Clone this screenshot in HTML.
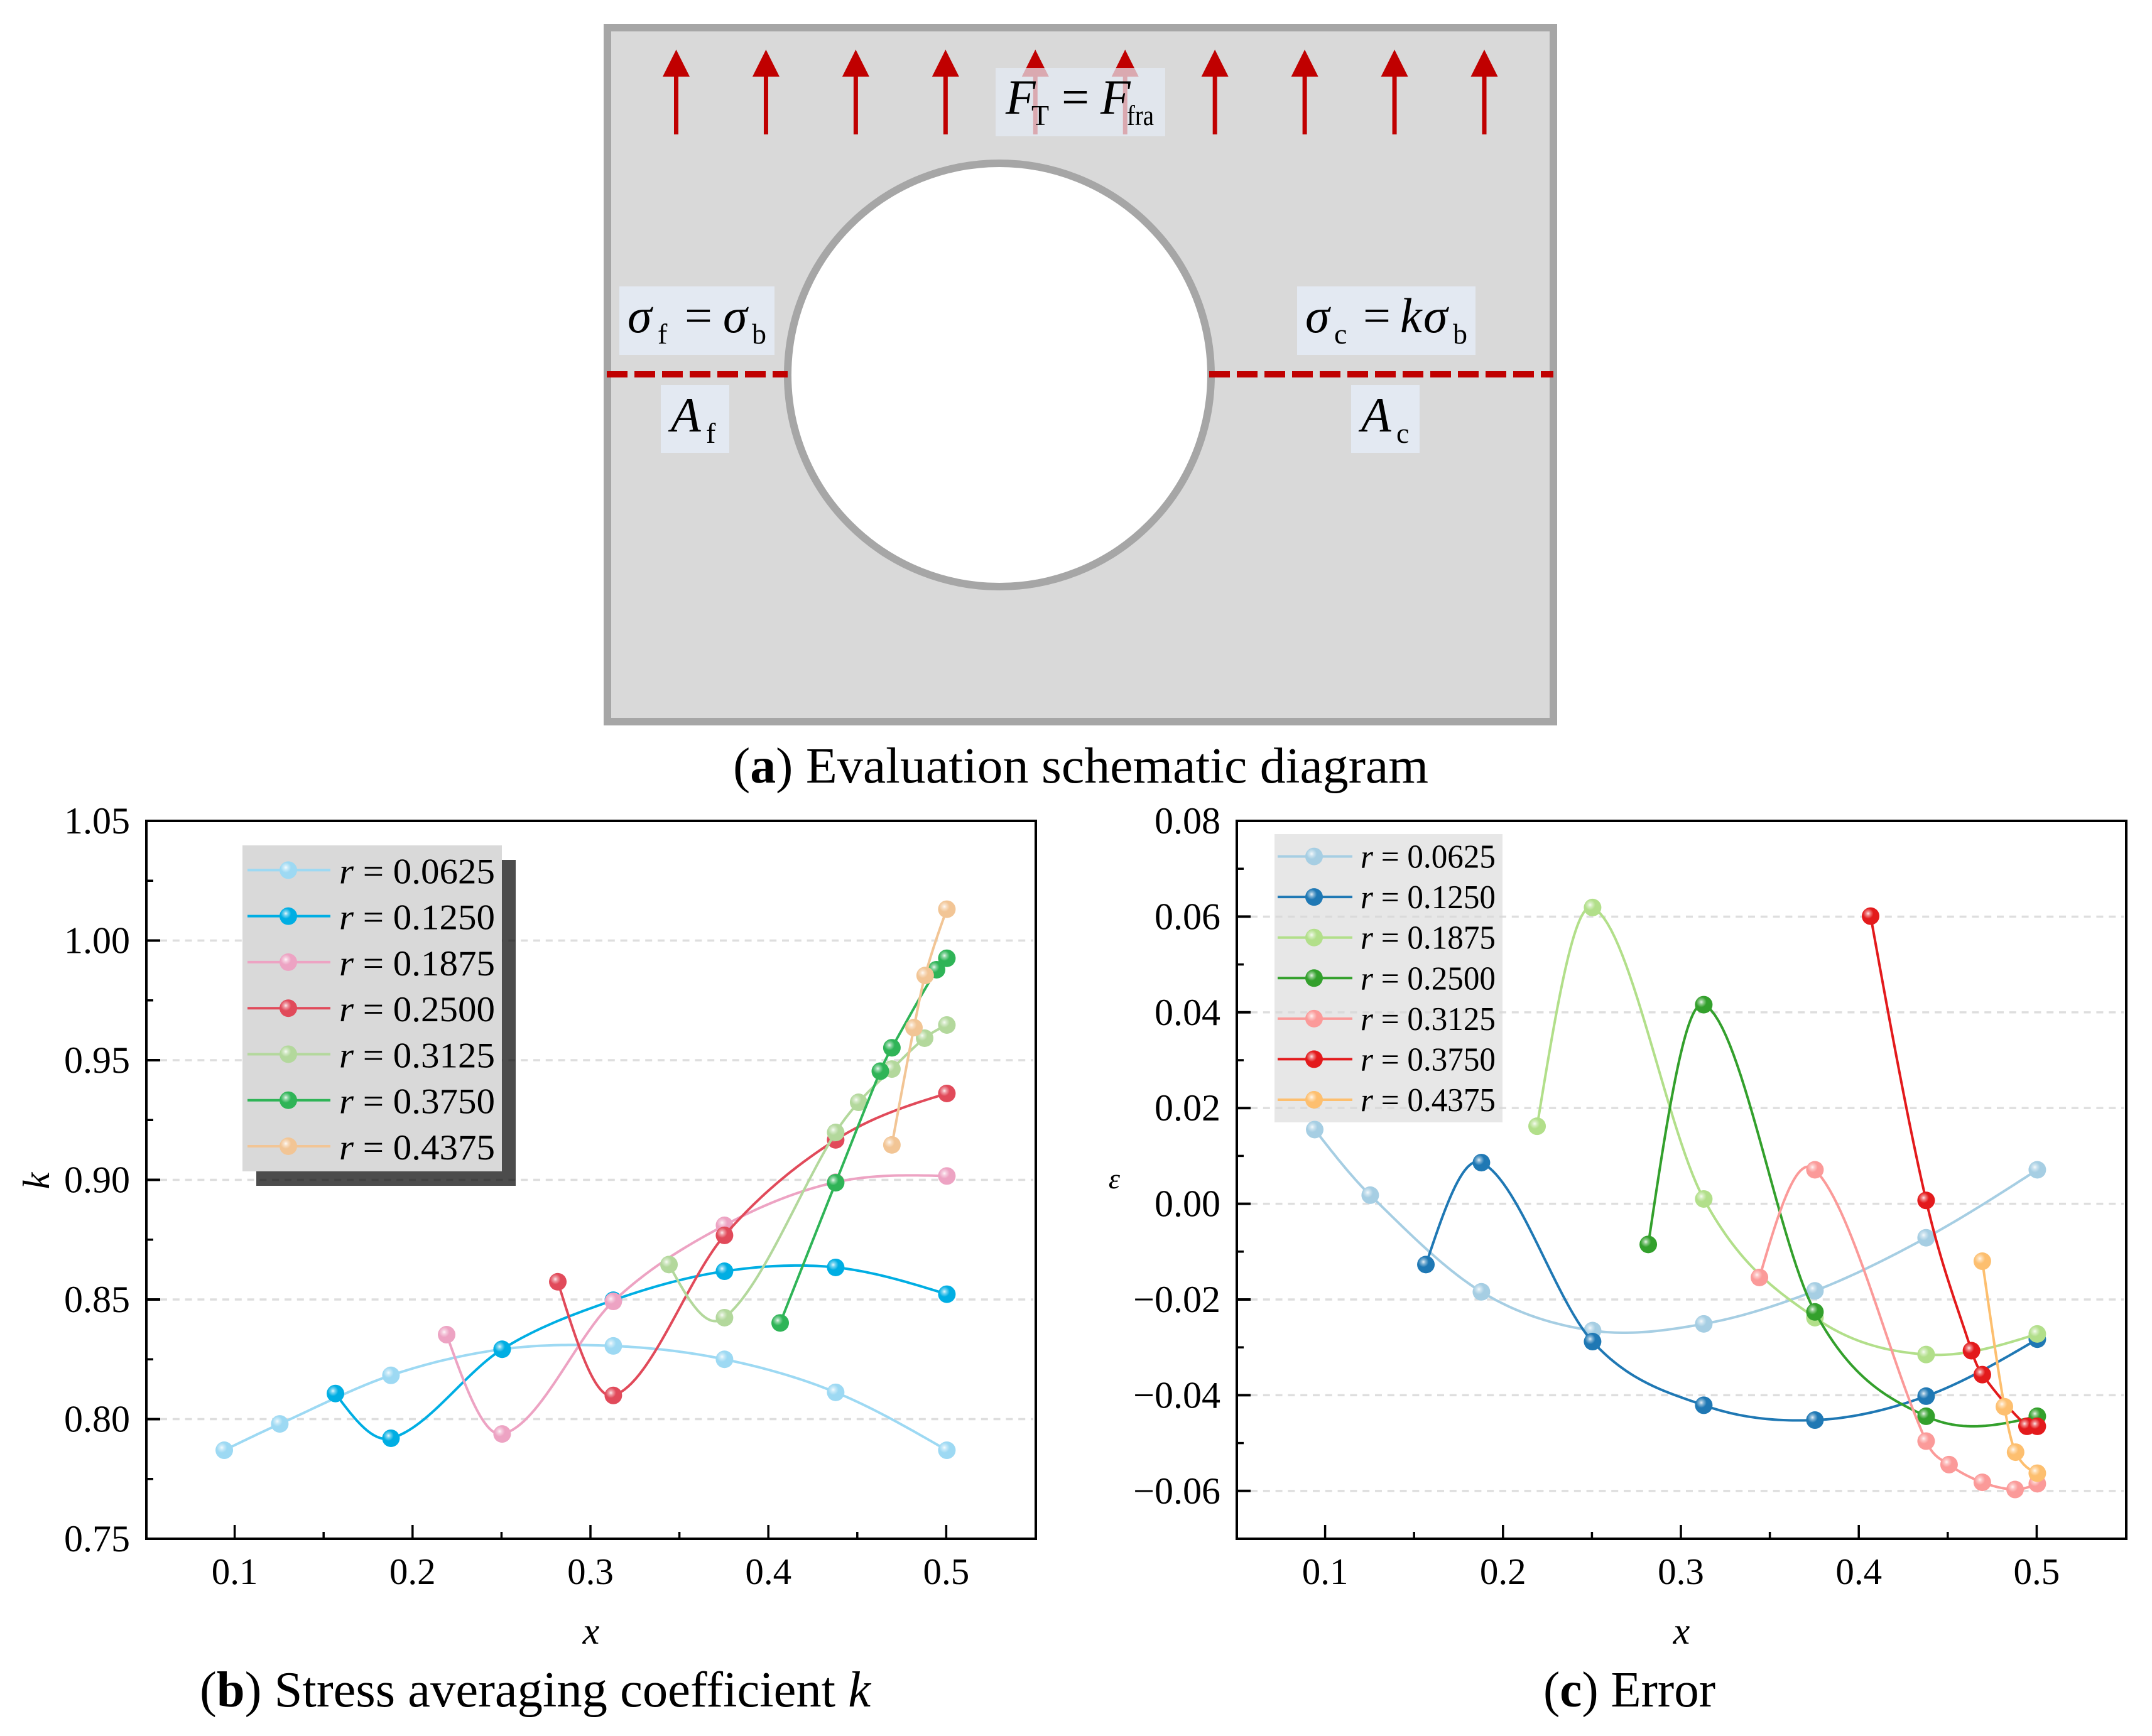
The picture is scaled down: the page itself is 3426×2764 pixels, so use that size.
<!DOCTYPE html>
<html lang="en">
<head>
<meta charset="utf-8">
<title>Evaluation schematic, stress averaging coefficient and error</title>
<style>
html,body{margin:0;padding:0;background:#fff;}
svg{display:block;}
text{font-family:"Liberation Serif",serif;fill:#000;}
.it{font-style:italic;}
</style>
</head>
<body>
<svg id="figure" xmlns="http://www.w3.org/2000/svg" width="3426" height="2764" viewBox="0 0 3426 2764">
<defs>
<radialGradient id="sheen" cx="0.36" cy="0.35" r="0.3">
<stop offset="0" stop-color="#fff" stop-opacity="0.9"/>
<stop offset="0.4" stop-color="#fff" stop-opacity="0.45"/>
<stop offset="1" stop-color="#fff" stop-opacity="0"/>
</radialGradient>
</defs>
<rect width="3426" height="2764" fill="#fff"/>

<g id="panel-a">
<rect x="967" y="44" width="1506" height="1105" fill="#d9d9d9" stroke="#a6a6a6" stroke-width="12"/>
<circle cx="1591" cy="597" r="337" fill="#fff" stroke="#a6a6a6" stroke-width="12"/>
<g id="arrows"></g>
<line x1="966" y1="596" x2="1254" y2="596" stroke="#c00000" stroke-width="10" stroke-dasharray="33 11"/>
<line x1="1925" y1="596" x2="2473" y2="596" stroke="#c00000" stroke-width="10" stroke-dasharray="33 11"/>

<rect x="1585" y="108" width="270" height="109" fill="#e3eaf4" fill-opacity="0.72"/>
<rect x="986" y="456" width="247" height="109" fill="#e3eaf4" fill-opacity="0.9"/>
<rect x="2065" y="456" width="284" height="109" fill="#e3eaf4" fill-opacity="0.9"/>
<rect x="1052" y="613" width="109" height="108" fill="#e3eaf4" fill-opacity="0.9"/>
<rect x="2151" y="613" width="109" height="108" fill="#e3eaf4" fill-opacity="0.9"/>

<g>
<text class="it" x="1601" y="181" font-size="78">F</text>
<text x="1642" y="199" font-size="46">T</text>
<text x="1690" y="181" font-size="78">=</text>
<text class="it" x="1752" y="181" font-size="78">F</text>
<text x="1794" y="199" font-size="46" textLength="43" lengthAdjust="spacingAndGlyphs">fra</text>
</g>
<g>
<text class="it" x="999" y="529" font-size="78">σ</text>
<text x="1047" y="547" font-size="46">f</text>
<text x="1090" y="529" font-size="78">=</text>
<text class="it" x="1151" y="529" font-size="78">σ</text>
<text x="1197" y="547" font-size="46">b</text>
</g>
<g>
<text class="it" x="2078" y="529" font-size="78">σ</text>
<text x="2124" y="547" font-size="46">c</text>
<text x="2170" y="529" font-size="78">=</text>
<text class="it" x="2229" y="529" font-size="78">k</text>
<text class="it" x="2266" y="529" font-size="78">σ</text>
<text x="2313" y="547" font-size="46">b</text>
</g>
<g>
<text class="it" x="1068" y="687" font-size="78">A</text>
<text x="1124" y="705" font-size="46">f</text>
</g>
<g>
<text class="it" x="2167" y="687" font-size="78">A</text>
<text x="2223" y="705" font-size="46">c</text>
</g>
</g>

<text x="1167" y="1246" font-size="80" textLength="1107" lengthAdjust="spacingAndGlyphs">(<tspan font-weight="bold">a</tspan>) Evaluation schematic diagram</text>

<g id="chart-b"></g>
<g id="chart-c"></g>

<text x="318" y="2717" font-size="80" textLength="1068" lengthAdjust="spacingAndGlyphs">(<tspan font-weight="bold">b</tspan>) Stress averaging coefficient <tspan font-style="italic">k</tspan></text>
<text x="2457" y="2717" font-size="80" textLength="274" lengthAdjust="spacingAndGlyphs">(<tspan font-weight="bold">c</tspan>) Error</text>
</svg>

<script>
// ---------- shared categories ----------
const rLabels = ['0.0625', '0.1250', '0.1875', '0.2500', '0.3125', '0.3750', '0.4375'];
const xTicks = [0.1, 0.2, 0.3, 0.4, 0.5];
const xTickLabels = ['0.1', '0.2', '0.3', '0.4', '0.5'];
const xMinorTicks = [0.15, 0.25, 0.35, 0.45];

// ---------- chart (b): stress averaging coefficient k ----------
const kTicks = [0.75, 0.80, 0.85, 0.90, 0.95, 1.00, 1.05];
const kTickLabels = ['0.75', '0.80', '0.85', '0.90', '0.95', '1.00', '1.05'];
const kMinorTicks = [0.775, 0.825, 0.875, 0.925, 0.975, 1.025];
const kGrid = [0.80, 0.85, 0.90, 0.95, 1.00];

const kX1 = [0.0938, 0.125, 0.1875, 0.25, 0.3125, 0.375, 0.4375, 0.5];
const kY1 = [0.787, 0.798, 0.8183, 0.8292, 0.8306, 0.825, 0.8112, 0.787];
const kX2 = [0.1563, 0.1875, 0.25, 0.3125, 0.375, 0.4375, 0.5];
const kY2 = [0.8107, 0.792, 0.8292, 0.8497, 0.8618, 0.8634, 0.8522];
const kX3 = [0.2188, 0.25, 0.3125, 0.375, 0.4375, 0.5];
const kY3 = [0.8353, 0.7938, 0.8492, 0.881, 0.899, 0.9016];
const kX4 = [0.2813, 0.3125, 0.375, 0.4375, 0.5];
const kY4 = [0.8574, 0.8099, 0.8768, 0.9167, 0.9361];
const kX5 = [0.3438, 0.375, 0.4375, 0.4504, 0.4691, 0.4875, 0.5];
const kY5 = [0.8646, 0.8424, 0.9198, 0.9324, 0.9463, 0.9592, 0.9647];
const kX6 = [0.4063, 0.4375, 0.4626, 0.4691, 0.4942, 0.5];
const kY6 = [0.8402, 0.8988, 0.9454, 0.9552, 0.9878, 0.9926];
const kX7 = [0.4691, 0.4815, 0.4878, 0.5];
const kY7 = [0.9146, 0.9636, 0.9854, 1.0131];

// ---------- chart (c): error ----------
const eTicks = [-0.06, -0.04, -0.02, 0, 0.02, 0.04, 0.06, 0.08];
const eTickLabels = ['\u22120.06', '\u22120.04', '\u22120.02', '0.00', '0.02', '0.04', '0.06', '0.08'];
const eMinorTicks = [-0.05, -0.03, -0.01, 0.01, 0.03, 0.05, 0.07];
const eGrid = [-0.06, -0.04, -0.02, 0, 0.02, 0.04, 0.06];

const eX1 = [0.0938, 0.125, 0.1875, 0.25, 0.3125, 0.375, 0.4375, 0.5];
const eY1 = [0.0155, 0.0018, -0.0184, -0.0265, -0.0251, -0.0182, -0.0071, 0.0071];
const eX2 = [0.1563, 0.1875, 0.25, 0.3125, 0.375, 0.4375, 0.5];
const eY2 = [-0.0127, 0.0086, -0.0288, -0.0421, -0.0452, -0.0402, -0.0283];
const eX3 = [0.2188, 0.25, 0.3125, 0.375, 0.4375, 0.5];
const eY3 = [0.0162, 0.0619, 0.001, -0.0238, -0.0315, -0.0272];
const eX4 = [0.2813, 0.3125, 0.375, 0.4375, 0.5];
const eY4 = [-0.0085, 0.0416, -0.0226, -0.0444, -0.0444];
const eX5 = [0.3438, 0.375, 0.4375, 0.4504, 0.4691, 0.4875, 0.5];
const eY5 = [-0.0154, 0.0071, -0.0496, -0.0545, -0.0582, -0.0597, -0.0585];
const eX6 = [0.4063, 0.4375, 0.463, 0.4691, 0.4942, 0.5];
const eY6 = [0.0601, 0.0007, -0.0307, -0.0357, -0.0465, -0.0465];
const eX7 = [0.4691, 0.4815, 0.4878, 0.5];
const eY7 = [-0.012, -0.0424, -0.0519, -0.0563];

const kColors = ['#9dd9f3', '#00aee3', '#eda3c3', '#e14a5a', '#b3d89c', '#2fb457', '#f2c595'];
const eColors = ['#a6cee3', '#1f78b4', '#b2df8a', '#33a02c', '#fb9a99', '#e31a1c', '#fdbf6f'];

const kSeries = [[kX1, kY1], [kX2, kY2], [kX3, kY3], [kX4, kY4], [kX5, kY5], [kX6, kY6], [kX7, kY7]];
const eSeries = [[eX1, eY1], [eX2, eY2], [eX3, eY3], [eX4, eY4], [eX5, eY5], [eX6, eY6], [eX7, eY7]];

const SVGNS = 'http://www.w3.org/2000/svg';
function svgEl(tag, attrs, parent) {
  const el = document.createElementNS(SVGNS, tag);
  for (const key in attrs) el.setAttribute(key, attrs[key]);
  if (parent) parent.appendChild(el);
  return el;
}
function scale(d0, d1, r0, r1) {
  return function (v) { return r0 + (v - d0) * (r1 - r0) / (d1 - d0); };
}

// Cubic Hermite spline with secant (chord) tangents through the data points
function splinePath(xs, ys, sx, sy) {
  const n = xs.length;
  const t = new Array(n).fill(0);
  for (let i = 1; i < n - 1; i++) t[i] = (ys[i + 1] - ys[i - 1]) / (xs[i + 1] - xs[i - 1]);
  t[0] = (3 * (ys[1] - ys[0]) / (xs[1] - xs[0]) - t[n > 2 ? 1 : 0]) / 2;
  t[n - 1] = (3 * (ys[n - 1] - ys[n - 2]) / (xs[n - 1] - xs[n - 2]) - t[n > 2 ? n - 2 : n - 1]) / 2;
  let d = 'M' + sx(xs[0]).toFixed(2) + ' ' + sy(ys[0]).toFixed(2);
  for (let i = 0; i < n - 1; i++) {
    const h = xs[i + 1] - xs[i];
    for (let s = 1; s <= 30; s++) {
      const u = s / 30, u2 = u * u, u3 = u2 * u;
      const y = (2 * u3 - 3 * u2 + 1) * ys[i] + (u3 - 2 * u2 + u) * h * t[i] + (-2 * u3 + 3 * u2) * ys[i + 1] + (u3 - u2) * h * t[i + 1];
      d += 'L' + sx(xs[i] + u * h).toFixed(2) + ' ' + sy(y).toFixed(2);
    }
  }
  return d;
}

function marker(parent, cx, cy, r, color, name) {
  const g = svgEl('g', {}, parent);
  
  
  svgEl('circle', { cx: cx, cy: cy, r: r, fill: color }, g);
  svgEl('circle', { cx: cx, cy: cy, r: r, fill: 'url(#sheen)' }, g);
}

// tension arrows on schematic
const arrowCount = 10;
(function () {
  const host = document.getElementById('arrows');
  const ax = scale(0, arrowCount - 1, 1076.5, 2363);
  for (let i = 0; i < arrowCount; i++) {
    const g = svgEl('g', {}, host);
    
    
    const x = ax(i);
    svgEl('rect', { x: x - 3.5, y: 118, width: 7, height: 96, fill: '#c00000' }, g);
    svgEl('path', { d: 'M' + x + ' 79L' + (x + 21.5) + ' 122L' + (x - 21.5) + ' 122Z', fill: '#c00000' }, g);
  }
})();

function drawChart(cfg) {
  const host = document.getElementById(cfg.id);
  const sx = scale(0.05, 0.55, cfg.left, cfg.right);
  const sy = scale(cfg.yMin, cfg.yMax, cfg.bottom, cfg.top);

  cfg.grid.forEach(function (v) {
    const gl = svgEl('line', { x1: cfg.left + 22, x2: cfg.right - 4, y1: sy(v), y2: sy(v), stroke: '#dedede', 'stroke-width': 3.4, 'stroke-dasharray': '11 8.8' }, host);
    
    
  });

  // legend box first so data sits on top
  const legend = svgEl('g', {}, host);
  
  
  if (cfg.shadow) {
    const sh = svgEl('rect', { x: cfg.legend.x + 22, y: cfg.legend.y + 23, width: cfg.legend.w, height: cfg.legend.h, fill: '#000', 'fill-opacity': 0.7 }, legend);
    
    
  }
  const box = svgEl('rect', { x: cfg.legend.x, y: cfg.legend.y, width: cfg.legend.w, height: cfg.legend.h, fill: '#d9d9d9', 'fill-opacity': cfg.legend.op }, legend);
  
  
  const rowY = scale(0, rLabels.length - 1, cfg.legend.first, cfg.legend.last);
  rLabels.forEach(function (label, i) {
    const row = svgEl('g', {}, legend);
    
    
    const y = rowY(i);
    svgEl('line', { x1: cfg.legend.lx0, x2: cfg.legend.lx1, y1: y, y2: y, stroke: cfg.colors[i], 'stroke-width': 4 }, row);
    marker(row, cfg.legend.mx, y, cfg.markerR, cfg.colors[i], 'legend-marker');
    const t = svgEl('text', { x: cfg.legend.tx, y: y + cfg.legend.dy, 'font-size': cfg.legend.fs, textLength: cfg.legend.tw, lengthAdjust: 'spacingAndGlyphs' }, row);
    const r = svgEl('tspan', { 'font-style': 'italic' }, t);
    r.textContent = 'r';
    const rest = svgEl('tspan', {}, t);
    rest.textContent = ' = ' + label;
  });

  // series
  cfg.series.forEach(function (pair, i) {
    const g = svgEl('g', {}, host);
    
    
    const p = svgEl('path', { d: splinePath(pair[0], pair[1], sx, sy), fill: 'none', stroke: cfg.colors[i], 'stroke-width': 4, 'stroke-linejoin': 'round' }, g);
    
    
    pair[0].forEach(function (xv, j) {
      marker(g, sx(xv), sy(pair[1][j]), cfg.markerR, cfg.colors[i], 'data-point');
    });
  });

  // axes frame
  const axes = svgEl('g', { stroke: '#000', 'stroke-width': 4, fill: 'none' }, host);
  
  
  svgEl('rect', { x: cfg.left, y: cfg.top, width: cfg.right - cfg.left, height: cfg.bottom - cfg.top }, axes);

  const ticks = svgEl('g', { stroke: '#000', 'stroke-width': 3.5 }, host);
  
  
  xTicks.forEach(function (v, i) {
    svgEl('line', { x1: sx(v) - 1, x2: sx(v) - 1, y1: cfg.bottom, y2: cfg.bottom - 22 }, ticks);
    const t = svgEl('text', { x: sx(v) - 1, y: 2522, 'font-size': 59, 'text-anchor': 'middle' }, host);
    
    
    t.textContent = xTickLabels[i];
  });
  xMinorTicks.forEach(function (v) {
    svgEl('line', { x1: sx(v) - 1, x2: sx(v) - 1, y1: cfg.bottom, y2: cfg.bottom - 11 }, ticks);
  });
  cfg.yTicks.forEach(function (v, i) {
    svgEl('line', { x1: cfg.left, x2: cfg.left + 22, y1: sy(v), y2: sy(v), 'stroke-width': 4 }, ticks);
    const t = svgEl('text', { x: cfg.left - 26, y: sy(v) + 20, 'font-size': 60, 'text-anchor': 'end' }, host);
    
    
    t.textContent = cfg.yLabels[i];
  });
  cfg.yMinor.forEach(function (v) {
    svgEl('line', { x1: cfg.left, x2: cfg.left + 11, y1: sy(v), y2: sy(v) }, ticks);
  });

  const xt = svgEl('text', { x: (cfg.left + cfg.right) / 2, y: 2617, 'font-size': 60, 'font-style': 'italic', 'text-anchor': 'middle' }, host);
  
  
  xt.textContent = 'x';
}

drawChart({
  id: 'chart-b', left: 233, right: 1649, top: 1307, bottom: 2450,
  yMin: 0.75, yMax: 1.05, yTicks: kTicks, yLabels: kTickLabels, yMinor: kMinorTicks, grid: kGrid,
  series: kSeries, colors: kColors, markerR: 14, shadow: true,
  legend: { x: 386, y: 1346, w: 413, h: 519, op: 1, first: 1385.4, last: 1825, lx0: 394, lx1: 526, mx: 459, tx: 540, tw: 248, fs: 57, dy: 21 }
});
drawChart({
  id: 'chart-c', left: 1969, right: 3385, top: 1307, bottom: 2450,
  yMin: -0.07, yMax: 0.08, yTicks: eTicks, yLabels: eTickLabels, yMinor: eMinorTicks, grid: eGrid,
  series: eSeries, colors: eColors, markerR: 14, shadow: false,
  legend: { x: 2029, y: 1328, w: 363, h: 459, op: 0.62, first: 1363.6, last: 1751, lx0: 2034, lx1: 2153, mx: 2092, tx: 2166, tw: 215, fs: 53, dy: 18 }
});

// y-axis titles
const kTitle = svgEl('text', { x: 78, y: 1880, 'font-size': 60, 'font-style': 'italic', 'text-anchor': 'middle', transform: 'rotate(-90 78 1880)' }, document.getElementById('chart-b'));


kTitle.textContent = 'k';
const eTitle = svgEl('text', { x: 1774, y: 1892, 'font-size': 46, 'font-style': 'italic', 'text-anchor': 'middle' }, document.getElementById('chart-c'));


eTitle.textContent = '\u03B5';
</script>
</body>
</html>
